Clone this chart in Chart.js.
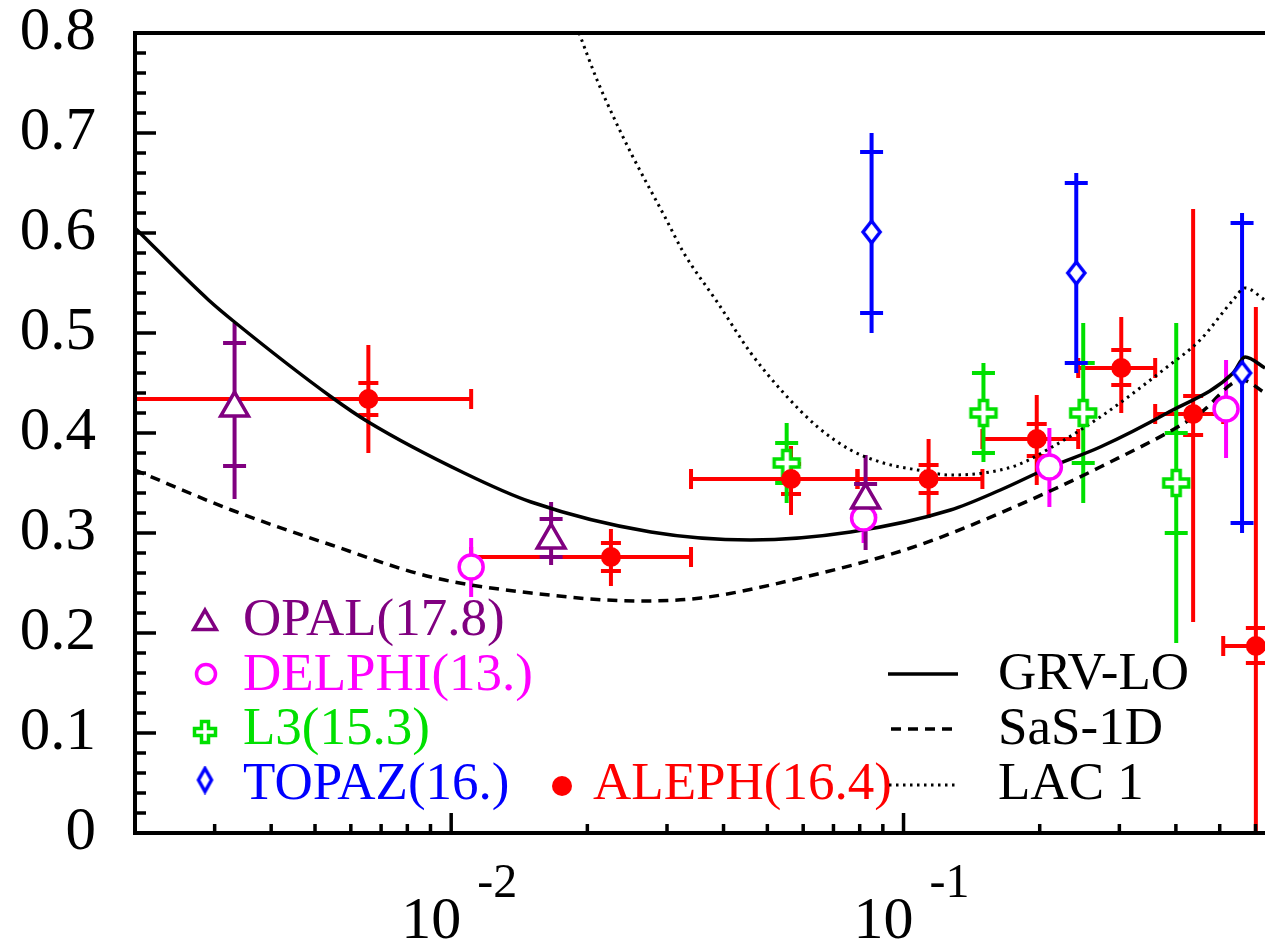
<!DOCTYPE html>
<html>
<head>
<meta charset="utf-8">
<script src="https://cdn.jsdelivr.net/npm/chart.js@4.4.0/dist/chart.umd.min.js"></script>
<style>
html, body { margin:0; padding:0; background:#fff; overflow:hidden; }
</style>
</head>
<body>
<canvas id="chart" width="1265" height="944"></canvas>
<script>
// ---- data ----
// OPAL(17.8)
var opalX = [0.00332, 0.01663, 0.08244];
var opalY = [0.425, 0.293, 0.333];
var opalLo = [0.334, 0.268, 0.283];
var opalHi = [0.51, 0.331, 0.378];
var opalStatLo = [0.367, 0.276, 0.317];
var opalStatHi = [0.49, 0.314, 0.349];
// DELPHI(13.)
var delphiX = [0.01107, 0.0816, 0.2101, 0.5164];
var delphiY = [0.266, 0.315, 0.366, 0.424];
var delphiLo = [0.236, 0.29, 0.326, 0.375];
var delphiHi = [0.295, 0.34, 0.405, 0.473];
// L3(15.3)
var l3X = [0.05516, 0.1502, 0.2496, 0.4007];
var l3Y = [0.37, 0.42, 0.42, 0.35];
var l3Lo = [0.33, 0.371, 0.33, 0.19];
var l3Hi = [0.41, 0.47, 0.51, 0.51];
var l3StatLo = [0.35, 0.38, 0.37, 0.30];
var l3StatHi = [0.39, 0.46, 0.47, 0.40];
// TOPAZ(16.)
var topazX = [0.08499, 0.2409, 0.5602];
var topazY = [0.601, 0.56, 0.46];
var topazLo = [0.50, 0.46, 0.30];
var topazHi = [0.70, 0.66, 0.62];
var topazStatLo = [0.52, 0.47, 0.31];
var topazStatHi = [0.681, 0.65, 0.61];
// ALEPH(16.4)
var alephX = [0.00656, 0.02255, 0.0564, 0.1136, 0.197, 0.3029, 0.4367, 0.601];
var alephY = [0.434, 0.276, 0.354, 0.354, 0.394, 0.465, 0.419, 0.187];
var alephBinLo = [0.0015, 0.01107, 0.0339, 0.0791, 0.1494, 0.2433, 0.36, 0.509];
var alephBinHi = [0.01107, 0.0339, 0.0791, 0.1494, 0.2433, 0.36, 0.509, 0.75];
var alephLo = [0.38, 0.247, 0.318, 0.315, 0.348, 0.42, 0.211, -0.05];
var alephHi = [0.488, 0.304, 0.387, 0.394, 0.438, 0.516, 0.624, 0.526];
var alephStatLo = [0.418, 0.262, 0.339, 0.34, 0.377, 0.448, 0.398, 0.17];
var alephStatHi = [0.45, 0.29, 0.369, 0.368, 0.409, 0.483, 0.437, 0.205];

// curves
var grvX = [0.002, 0.002908, 0.003319, 0.005433, 0.006558, 0.010683, 0.015018, 0.027634, 0.045959, 0.076384, 0.12699, 0.16368, 0.21113, 0.27215, 0.38251, 0.53532, 0.56885, 0.62955];
var grvY = [0.605, 0.533, 0.511, 0.436, 0.411, 0.36, 0.331, 0.301, 0.293, 0.301, 0.323, 0.343, 0.366, 0.386, 0.42, 0.46, 0.476, 0.465];
var sasX = [0.002, 0.003268, 0.005433, 0.009032, 0.015018, 0.026266, 0.03563, 0.059252, 0.10363, 0.16368, 0.27215, 0.45247, 0.56015, 0.62955];
var sasY = [0.363, 0.323, 0.288, 0.256, 0.24, 0.232, 0.235, 0.255, 0.285, 0.32, 0.366, 0.42, 0.453, 0.44];
var lacX = [0.019171, 0.021013, 0.023014, 0.025096, 0.029684, 0.032679, 0.038864, 0.045959, 0.054335, 0.064594, 0.076384, 0.090322, 0.10737, 0.12699, 0.15018, 0.17856, 0.21113, 0.27215, 0.38251, 0.45247, 0.53532, 0.56885, 0.62955];
var lacY = [0.8, 0.753, 0.713, 0.678, 0.616, 0.58, 0.53, 0.48, 0.44, 0.406, 0.383, 0.37, 0.363, 0.358, 0.36, 0.368, 0.385, 0.416, 0.466, 0.493, 0.533, 0.545, 0.533];

// axes
var xMin = 0.002, xMax = 0.6296;
var xMajor = [0.01, 0.1];
var xMajorExp = ['-2', '-1'];
var xMinor = [0.003, 0.004, 0.005, 0.006, 0.007, 0.008, 0.009, 0.02, 0.03, 0.04, 0.05, 0.06, 0.07, 0.08, 0.09, 0.2, 0.3, 0.4, 0.5, 0.6];
var yLabels = ['0', '0.1', '0.2', '0.3', '0.4', '0.5', '0.6', '0.7', '0.8'];

var PURPLE = '#800080', MAGENTA = '#ff00ff', GREEN = '#00e000', BLUE = '#0000ff', RED = '#ff0000';
var FONT = '"Liberation Serif", "Times New Roman", serif';

function pts(xs, ys){
    var out = [];
    for (var i = 0; i < xs.length; i++) out.push({x: xs[i], y: ys[i]});
    return out;
}
function makePlus(s, e, a, color){
    var cv = document.createElement('canvas');
    cv.width = s; cv.height = s;
    var g = cv.getContext('2d'), h = s / 2;
    g.beginPath();
    g.moveTo(h-a, h-e); g.lineTo(h+a, h-e); g.lineTo(h+a, h-a); g.lineTo(h+e, h-a);
    g.lineTo(h+e, h+a); g.lineTo(h+a, h+a); g.lineTo(h+a, h+e); g.lineTo(h-a, h+e);
    g.lineTo(h-a, h+a); g.lineTo(h-e, h+a); g.lineTo(h-e, h-a); g.lineTo(h-a, h-a);
    g.closePath();
    g.fillStyle = '#fff'; g.fill();
    g.strokeStyle = color; g.lineWidth = 3.5; g.stroke();
    return cv;
}
function makeDiamond(w, h, color){
    var cv = document.createElement('canvas');
    cv.width = w + 6; cv.height = h + 6;
    var g = cv.getContext('2d'), cx = cv.width / 2, cy = cv.height / 2;
    g.beginPath();
    g.moveTo(cx, cy - h/2); g.lineTo(cx + w/2, cy); g.lineTo(cx, cy + h/2); g.lineTo(cx - w/2, cy);
    g.closePath();
    g.fillStyle = '#fff'; g.fill();
    g.strokeStyle = color; g.lineWidth = 3.5; g.stroke();
    return cv;
}
var plusMark = makePlus(32, 12.5, 4, GREEN);
var plusLegend = makePlus(28, 10.5, 3.5, GREEN);
var diaMark = makeDiamond(17, 22, BLUE);
var diaLegend = makeDiamond(13, 23, BLUE);

function errBars(c, X, Y, xs, lo, hi, slo, shi, color, cw){
    c.strokeStyle = color;
    c.lineWidth = 4;
    for (var i = 0; i < xs.length; i++){
        var px = X(xs[i]);
        c.beginPath(); c.moveTo(px, Y(lo[i])); c.lineTo(px, Y(hi[i])); c.stroke();
        if (slo){
            c.beginPath();
            c.moveTo(px - cw/2, Y(slo[i])); c.lineTo(px + cw/2, Y(slo[i]));
            c.moveTo(px - cw/2, Y(shi[i])); c.lineTo(px + cw/2, Y(shi[i]));
            c.stroke();
        }
    }
}

var framePlugin = {
    id: 'frame',
    beforeDatasetsDraw: function(chart){
        var c = chart.ctx, a = chart.chartArea;
        var X = function(v){ return chart.scales.x.getPixelForValue(v); };
        var Y = function(v){ return chart.scales.y.getPixelForValue(v); };
        c.save();
        c.beginPath(); c.rect(a.left, a.top, a.right - a.left + 10, a.bottom - a.top); c.clip();
        c.lineCap = 'butt';
        // ALEPH bins
        c.strokeStyle = RED; c.lineWidth = 4;
        for (var i = 0; i < alephX.length; i++){
            var yy = Y(alephY[i]), x0 = X(alephBinLo[i]), x1 = X(alephBinHi[i]);
            c.beginPath();
            c.moveTo(x0, yy); c.lineTo(x1, yy);
            c.moveTo(x0, yy - 10); c.lineTo(x0, yy + 10);
            c.moveTo(x1, yy - 10); c.lineTo(x1, yy + 10);
            c.stroke();
        }
        errBars(c, X, Y, alephX, alephLo, alephHi, alephStatLo, alephStatHi, RED, 20);
        errBars(c, X, Y, delphiX, delphiLo, delphiHi, null, null, MAGENTA, 0);
        errBars(c, X, Y, opalX, opalLo, opalHi, opalStatLo, opalStatHi, PURPLE, 23);
        errBars(c, X, Y, l3X, l3Lo, l3Hi, l3StatLo, l3StatHi, GREEN, 23);
        errBars(c, X, Y, topazX, topazLo, topazHi, topazStatLo, topazStatHi, BLUE, 23);
        c.restore();
    },
    afterDraw: function(chart){
        var c = chart.ctx, a = chart.chartArea;
        var xs = chart.scales.x, ys = chart.scales.y;
        c.save();
        c.strokeStyle = '#000';
        // ticks pointing inward
        c.lineWidth = 3.5;
        c.beginPath();
        for (var v = 0; v <= 80; v += 2){
            var py = ys.getPixelForValue(v / 100);
            var len = (v % 10 === 0) ? 21 : 11;
            c.moveTo(a.left, py); c.lineTo(a.left + len, py);
        }
        xMinor.forEach(function(t){
            var px = xs.getPixelForValue(t);
            c.moveTo(px, a.bottom); c.lineTo(px, a.bottom - 9);
        });
        xMajor.forEach(function(t){
            var px = xs.getPixelForValue(t);
            c.moveTo(px, a.bottom); c.lineTo(px, a.bottom - 20);
        });
        c.stroke();
        // frame (right side is off the picture)
        c.lineWidth = 4;
        c.beginPath();
        c.moveTo(a.right + 5, a.top); c.lineTo(a.left, a.top);
        c.lineTo(a.left, a.bottom); c.lineTo(a.right + 5, a.bottom);
        c.stroke();
        // y labels
        c.fillStyle = '#000';
        c.font = '61px ' + FONT;
        c.textAlign = 'right';
        c.textBaseline = 'middle';
        yLabels.forEach(function(t){
            c.fillText(t, 96, ys.getPixelForValue(parseFloat(t)));
        });
        // x labels 10^n
        c.textBaseline = 'alphabetic';
        xMajor.forEach(function(t, i){
            var px = xs.getPixelForValue(t);
            c.font = '60px ' + FONT;
            c.textAlign = 'center';
            c.fillText('10', px - 20, 938);
            c.font = '48px ' + FONT;
            c.textAlign = 'left';
            c.fillText(xMajorExp[i], px + 26, 897);
        });
        // legend, data sets
        c.font = '53px ' + FONT;
        c.textBaseline = 'middle';
        c.textAlign = 'left';
        var hp = Chart.helpers;
        c.lineWidth = 3.5;
        c.strokeStyle = PURPLE; c.fillStyle = '#fff';
        hp.drawPoint(c, {pointStyle: 'triangle', radius: 13, borderWidth: 3.5}, 205, 623);
        c.strokeStyle = MAGENTA; c.fillStyle = '#fff';
        hp.drawPoint(c, {pointStyle: 'circle', radius: 9.5, borderWidth: 3.5}, 206, 674);
        c.drawImage(plusLegend, 205 - plusLegend.width/2, 732 - plusLegend.height/2);
        c.drawImage(diaLegend, 205 - diaLegend.width/2, 780 - diaLegend.height/2);
        c.fillStyle = RED;
        c.beginPath(); c.arc(562, 786, 10, 0, Math.PI * 2); c.fill();
        c.fillStyle = PURPLE; c.fillText('OPAL(17.8)', 243, 621);
        c.fillStyle = MAGENTA; c.fillText('DELPHI(13.)', 243, 676);
        c.fillStyle = GREEN; c.fillText('L3(15.3)', 243, 730);
        c.fillStyle = BLUE; c.fillText('TOPAZ(16.)', 243, 785);
        c.fillStyle = RED; c.fillText('ALEPH(16.4)', 593, 785);
        // legend, curves
        c.strokeStyle = '#000'; c.lineWidth = 3.5;
        c.setLineDash([]);
        c.beginPath(); c.moveTo(888, 674); c.lineTo(958, 674); c.stroke();
        c.setLineDash([10, 7]);
        c.beginPath(); c.moveTo(891, 729); c.lineTo(958, 729); c.stroke();
        c.lineWidth = 3;
        c.setLineDash([2.5, 4.5]);
        c.beginPath(); c.moveTo(889, 785); c.lineTo(958, 785); c.stroke();
        c.setLineDash([]);
        c.fillStyle = '#000';
        c.fillText('GRV-LO', 998, 675);
        c.fillText('SaS-1D', 998, 730);
        c.fillText('LAC 1', 998, 785);
        c.restore();
    }
};

new Chart(document.getElementById('chart').getContext('2d'), {
    type: 'scatter',
    data: {
        datasets: [{
            label: 'ALEPH(16.4)',
            data: pts(alephX, alephY),
            pointStyle: 'circle',
            pointRadius: 10,
            pointBorderWidth: 0,
            pointBackgroundColor: RED,
            pointBorderColor: RED
        },{
            label: 'TOPAZ(16.)',
            data: pts(topazX, topazY),
            pointStyle: diaMark
        },{
            label: 'L3(15.3)',
            data: pts(l3X, l3Y),
            pointStyle: plusMark
        },{
            label: 'OPAL(17.8)',
            data: pts(opalX, opalY),
            pointStyle: 'triangle',
            pointRadius: 16,
            pointBorderWidth: 3.5,
            pointBackgroundColor: '#fff',
            pointBorderColor: PURPLE
        },{
            label: 'DELPHI(13.)',
            data: pts(delphiX, delphiY),
            pointStyle: 'circle',
            pointRadius: 12,
            pointBorderWidth: 3.5,
            pointBackgroundColor: '#fff',
            pointBorderColor: MAGENTA
        },{
            type: 'line',
            label: 'GRV-LO',
            data: pts(grvX, grvY),
            borderColor: '#000',
            borderWidth: 3.5,
            pointRadius: 0,
            cubicInterpolationMode: 'monotone'
        },{
            type: 'line',
            label: 'SaS-1D',
            data: pts(sasX, sasY),
            borderColor: '#000',
            borderWidth: 3.5,
            borderDash: [10, 7],
            pointRadius: 0,
            cubicInterpolationMode: 'monotone'
        },{
            type: 'line',
            label: 'LAC 1',
            data: pts(lacX, lacY),
            borderColor: '#000',
            borderWidth: 3,
            borderDash: [2.5, 4.5],
            pointRadius: 0,
            cubicInterpolationMode: 'monotone'
        }]
    },
    options: {
        responsive: false,
        animation: false,
        devicePixelRatio: 1,
        layout: { autoPadding: false, padding: { top: 33, right: 0, left: 0, bottom: 0 } },
        plugins: {
            legend: { display: false },
            tooltip: { enabled: false }
        },
        scales: {
            x: {
                type: 'logarithmic',
                min: xMin,
                max: xMax,
                grid: { display: false, drawTicks: false },
                border: { display: false },
                ticks: { display: false },
                afterFit: function(s){ s.height = 111; }
            },
            y: {
                min: 0,
                max: 0.8,
                grid: { display: false, drawTicks: false },
                border: { display: false },
                ticks: { display: false },
                afterFit: function(s){ s.width = 135; }
            }
        }
    },
    plugins: [framePlugin]
});
</script>
</body>
</html>
